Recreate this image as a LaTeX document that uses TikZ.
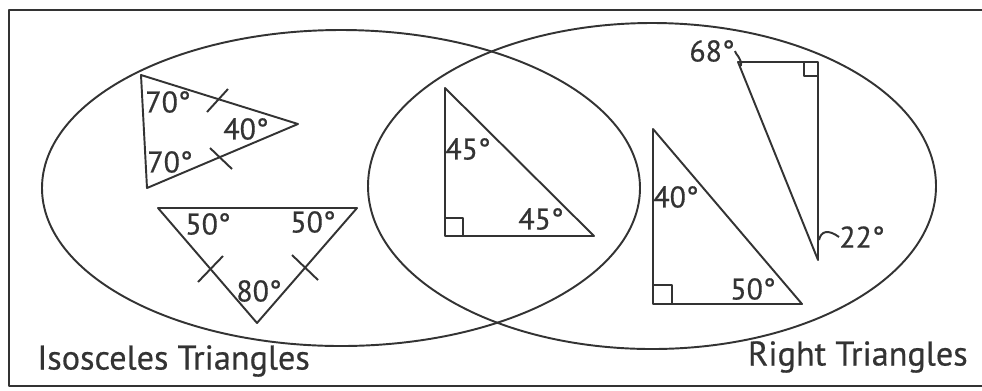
\documentclass[tikz,border=0pt]{standalone}
\usepackage{fontspec}
\setmainfont{PT Sans}
\newfontfamily\rotulo{PT Sans}[FakeBold=0.5]
\tikzset{
  lado/.style={line width=1.1pt, line join=round, black!80},
  angulo/.style={inner sep=0pt, text=black!80, font=\rotulo\fontsize{17}{19}\selectfont},
  titulo/.style={inner sep=0pt, text=black!80, font=\rotulo\fontsize{19.5}{23}\selectfont},
}
\begin{document}
\begin{tikzpicture}[x=0.02cm, y=-0.02cm]
        \useasboundingbox (0,0) rectangle (982,390);

        % Marco
        \draw[lado] (995,10) -- (9,10) -- (9,386) -- (995,386);

        % Elipses del diagrama
        \draw[lado] (341,188) ellipse [x radius=299, y radius=158];
        \draw[lado] (652,186) ellipse [x radius=284, y radius=163];

        % Triángulo isósceles 70-70-40
        \coordinate (a1) at (141,75);
        \coordinate (a2) at (147,188);
        \coordinate (a3) at (298,124);
        \draw[lado] (a1) -- (a3) -- (a2) -- cycle;
        \draw[lado] (207,112) -- (228,89);
        \draw[lado] (210,148) -- (232,169);
        \node[angulo] (a70s) at (168,102) {70°};
        \node[angulo] (a70i) at (170,162) {70°};
        \node[angulo] (a40) at (246,129) {40°};

        % Triángulo isósceles 50-50-80
        \coordinate (b1) at (158,208);
        \coordinate (b2) at (357,208);
        \coordinate (b3) at (257,323);
        \draw[lado] (b1) -- (b2) -- (b3) -- cycle;
        \draw[lado] (198,282) -- (223,256);
        \draw[lado] (292,255) -- (318,280);
        \node[angulo] (b50i) at (208,224) {50°};
        \node[angulo] (b50d) at (313,222) {50°};
        \node[angulo] (b80) at (259,291) {80°};

        % Triángulo rectángulo 45-45
        \coordinate (c1) at (445,88);
        \coordinate (c2) at (445,236);
        \coordinate (c3) at (594,236);
        \draw[lado] (c1) -- (c2) -- (c3) -- cycle;
        \draw[lado] (445,218) -| (463,236);
        \node[angulo] (c45a) at (468,149) {45°};
        \node[angulo] (c45b) at (541,219) {45°};

        % Triángulo rectángulo 40-50
        \coordinate (d1) at (653,129);
        \coordinate (d2) at (653,304);
        \coordinate (d3) at (802,304);
        \draw[lado] (d1) -- (d2) -- (d3) -- cycle;
        \draw[lado] (653,285) -| (672,304);
        \node[angulo] (d40) at (676,197) {40°};
        \node[angulo] (d50) at (753,289) {50°};

        % Triángulo rectángulo 68-22
        \coordinate (e1) at (738,62);
        \coordinate (e2) at (818,62);
        \coordinate (e3) at (818,260);
        \draw[lado] (e1) -- (e2) -- (e3) -- cycle;
        \draw[lado] (804,62) |- (818,76);
        \node[angulo] (e68) at (712,51) {68°};
        \node[angulo] (e22) at (862,237) {22°};
        \draw[lado] (e68.east) .. controls (735,54) and (742,58) .. (741,66);
        \draw[lado] (e22.west) .. controls (828,229) and (821,231) .. (819,240);

        % Nombres de los conjuntos
        \node[titulo, anchor=west] (iso) at (37,361) {Isosceles Triangles};
        \node[titulo, anchor=east] (rect) at (968,357) {Right Triangles};
\end{tikzpicture}
\end{document}
